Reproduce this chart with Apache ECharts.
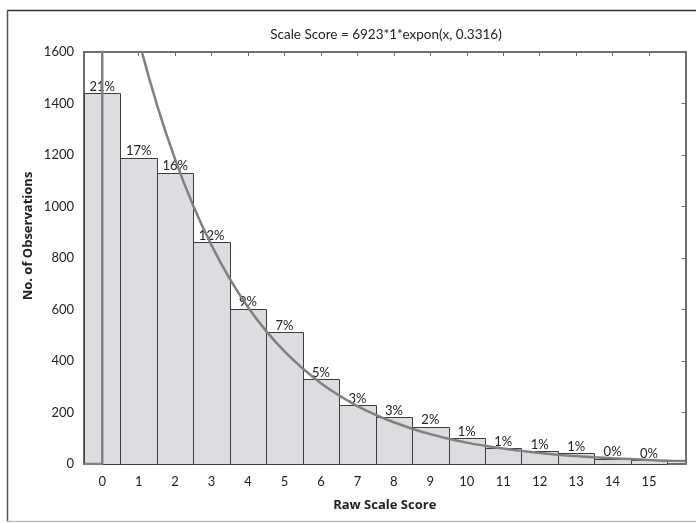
<!DOCTYPE html>
<html>
<head>
<meta charset="utf-8">
<script src="https://cdn.jsdelivr.net/npm/echarts@6/dist/echarts.min.js"></script>
<style>html,body{margin:0;padding:0;background:#fff;}#c{width:696px;height:523px;}</style>
</head>
<body>
<div id="c"></div>
<script>
// ---- data ----
const scores = [0, 1, 2, 3, 4, 5, 6, 7, 8, 9, 10, 11, 12, 13, 14, 15];
const counts = [1440, 1190, 1132, 862, 603, 511, 330, 228, 182, 145, 101, 62, 49, 43, 21, 15];
const pctLabels = ['21%', '17%', '16%', '12%', '9%', '7%', '5%', '3%', '3%', '2%', '1%', '1%', '1%', '1%', '0%', '0%'];
// fitted curve
const curveX = [0, 0.5, 1, 1.5, 2, 2.5, 3, 3.5, 4, 4.5, 5, 5.5, 6, 6.5, 7, 7.5, 8, 8.5, 9, 9.5, 10, 10.5, 11, 11.5, 12, 12.5, 13, 13.5, 14, 14.5, 15, 15.5, 16];
const curveY = [2296, 1945, 1648, 1396, 1183, 1002, 849, 719, 609, 516, 437, 371, 314, 266, 225, 191, 162, 137, 116, 98, 83, 71, 60, 51, 43, 36, 31, 26, 22, 19, 16, 13, 12];
const stepX = [-0.5, 0, 0];
const stepY = [0, 0, 2296];
const xTickValues = [0, 1, 2, 3, 4, 5, 6, 7, 8, 9, 10, 11, 12, 13, 14, 15, 16];
const xLabelValues = [0, 1, 2, 3, 4, 5, 6, 7, 8, 9, 10, 11, 12, 13, 14, 15];
const titleText = 'Scale Score = 6923*1*expon(x, 0.3316)';
const xName = 'Raw Scale Score';
const yName = 'No. of Observations';

const FONT = 'Lato';
const BOLDFONT = 'Open Sans';
const chart = echarts.init(document.getElementById('c'), null, {renderer: 'canvas'});

const axisLineStyle = {color: '#6e6e6e', width: 2};
const tickStyle = {color: '#6e6e6e', width: 1};

chart.setOption({
  animation: false,
  backgroundColor: '#fff',
  textStyle: {fontFamily: FONT},
  title: {
    text: titleText, left: 381, top: 23, textAlign: 'center',
    textStyle: {fontFamily: FONT, fontSize: 13.5, fontWeight: 'normal', color: '#222'}
  },
  graphic: [
    {type: 'line', shape: {x1: 7, y1: 10.5, x2: 696, y2: 10.5}, style: {stroke: '#333', lineWidth: 1.5}},
    {type: 'line', shape: {x1: 7.5, y1: 10, x2: 7.5, y2: 522}, style: {stroke: '#555', lineWidth: 1.5}},
    {type: 'line', shape: {x1: 7, y1: 521.5, x2: 696, y2: 521.5}, style: {stroke: '#bbb', lineWidth: 1.5}},
    {type: 'text', x: 28, y: 236, rotation: Math.PI / 2,
     style: {text: yName, fill: '#222', font: 'bold 13px "' + BOLDFONT + '"', textAlign: 'center', textVerticalAlign: 'middle'}}
  ],
  grid: {left: 84, right: 10.5, top: 52, bottom: 59, containLabel: false},
  xAxis: [{
    type: 'value', min: -0.5, max: 16, position: 'bottom',
    name: xName, nameLocation: 'middle', nameGap: 35,
    nameTextStyle: {fontFamily: BOLDFONT, fontWeight: 'bold', fontSize: 13, color: '#222'},
    axisLine: {show: true, onZero: false, lineStyle: axisLineStyle},
    axisTick: {show: true, inside: true, length: 4, customValues: xTickValues, lineStyle: tickStyle},
    axisLabel: {customValues: xLabelValues, margin: 11, fontFamily: FONT, fontSize: 13, color: '#222',
      formatter: v => String(v)},
    splitLine: {show: false}
  }, {
    type: 'value', min: -0.5, max: 16, position: 'top',
    axisLine: {show: true, onZero: false, lineStyle: axisLineStyle},
    axisTick: {show: true, inside: true, length: 4, customValues: xTickValues, lineStyle: tickStyle},
    axisLabel: {show: false},
    splitLine: {show: false}
  }],
  yAxis: [{
    type: 'value', min: 0, max: 1600, interval: 200, position: 'left',
    axisLine: {show: true, onZero: false, lineStyle: axisLineStyle},
    axisTick: {show: true, inside: true, length: 4, lineStyle: tickStyle},
    axisLabel: {margin: 10, fontFamily: FONT, fontSize: 13, color: '#222', formatter: v => String(v)},
    splitLine: {show: false}
  }, {
    type: 'value', min: 0, max: 1600, interval: 200, position: 'right',
    axisLine: {show: true, onZero: false, lineStyle: axisLineStyle},
    axisTick: {show: true, inside: true, length: 4, lineStyle: tickStyle},
    axisLabel: {show: false},
    splitLine: {show: false}
  }],
  series: [{
    type: 'custom',
    xAxisIndex: 0, yAxisIndex: 0,
    z: 2,
    data: scores.map((s, i) => [s, counts[i]]),
    renderItem: function (params, api) {
      const x = api.value(0), y = api.value(1);
      const p0 = api.coord([x - 0.5, y]);
      const p1 = api.coord([x + 0.5, 0]);
      return {
        type: 'group',
        children: [{
          type: 'rect',
          shape: {x: Math.round(p0[0]) + 0.5, y: Math.round(p0[1]) + 0.5,
                  width: Math.round(p1[0]) - Math.round(p0[0]), height: Math.round(p1[1]) - Math.round(p0[1])},
          style: {fill: '#dcdde0', stroke: '#3c3c3c', lineWidth: 1}
        }, {
          type: 'text',
          x: (p0[0] + p1[0]) / 2, y: p0[1],
          style: {text: pctLabels[params.dataIndex], fill: '#222', font: '13px ' + FONT,
                  textAlign: 'center', textVerticalAlign: 'bottom'}
        }]
      };
    }
  }, {
    type: 'line',
    xAxisIndex: 0, yAxisIndex: 0,
    z: 5, symbol: 'none', clip: true,
    lineStyle: {color: '#808080', width: 2.5},
    data: stepX.map((x, i) => [x, stepY[i]])
  }, {
    type: 'line',
    xAxisIndex: 0, yAxisIndex: 0,
    z: 5, symbol: 'none', clip: true, smooth: 0.3,
    lineStyle: {color: '#808080', width: 2.5},
    data: curveX.map((x, i) => [x, curveY[i]])
  }]
});
</script>
</body>
</html>
